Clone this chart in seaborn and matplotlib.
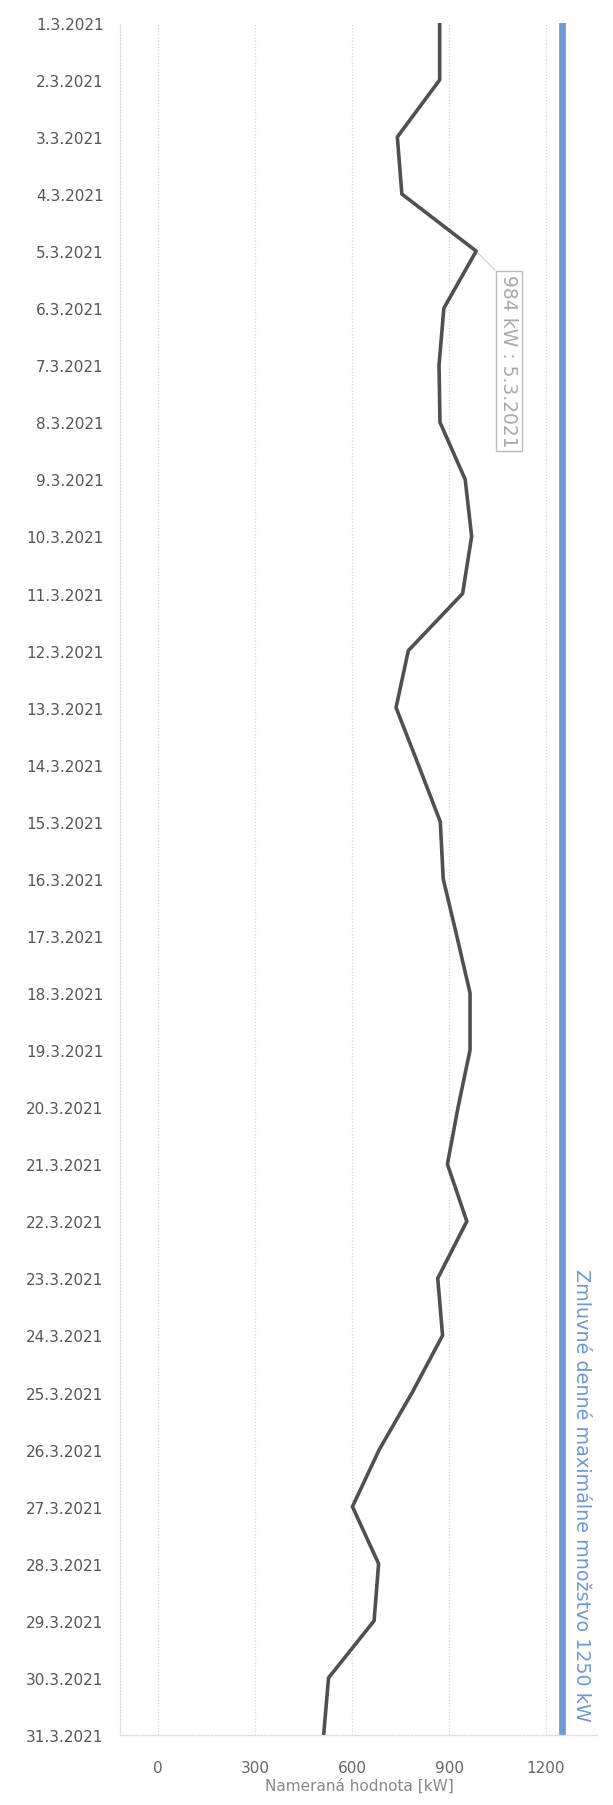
import numpy as np
import pandas as pd
import matplotlib
matplotlib.use("Agg")
import matplotlib.pyplot as plt
import seaborn as sns

# ---- data ----
dates = [f"{d}.3.2021" for d in range(1, 32)]
values_kw = [871, 871, 740, 754, 984, 884, 869, 872, 950, 970,
             942, 774, 736, 805, 873, 882, 924, 965, 965, 928,
             895, 955, 865, 880, 786, 684, 601, 682, 668, 527, 512]
x_ticks = [0, 300, 600, 900, 1200]
limit_kw = 1250
limit_label = "Zmluvné denné maximálne množstvo 1250 kW"
peak_label = "984 kW : 5.3.2021"
x_label = "Nameraná hodnota [kW]"

df = pd.DataFrame({"day": np.arange(len(dates)), "kw": values_kw})

sns.set_theme(style="white")
plt.rcParams["font.family"] = ["DejaVu Sans"]

fig = plt.figure(figsize=(6.13, 18.06), dpi=100)
ax = fig.add_axes([0.196, 0.0388, 0.780, 0.948])

# grid
for xv in x_ticks:
    ax.axvline(xv, color="#d4d8e6", lw=0.9, ls=(0, (1, 1.5)), zorder=0)

sns.lineplot(data=df, x="kw", y="day", orient="y", sort=False,
             color="#505050", lw=2.6, ax=ax, zorder=3)

ax.axvline(limit_kw, color="#6d98d9", lw=4.8, zorder=2)
ax.text(1310, 29.75, limit_label, rotation=270, ha="center", va="bottom",
        color="#6d98d9", fontsize=13.8)

ax.annotate(peak_label, xy=(984, 4), xytext=(1085, 5.92),
            rotation=270, ha="center", va="center", color="#a8a8a8",
            fontsize=13.5,
            bbox=dict(boxstyle="square,pad=0.2", fc="white", ec="#bcbcbc", lw=1),
            arrowprops=dict(arrowstyle="-", color="#c8cedc", lw=0.8,
                            relpos=(0, 1), shrinkA=0, shrinkB=2),
            zorder=5)

ax.set_xlim(-118, 1362)
ax.set_ylim(30, 0)
ax.set_xticks(x_ticks)
ax.set_xticklabels([str(v) for v in x_ticks])
ax.set_yticks(np.arange(len(dates)))
ax.set_yticklabels(dates)
ax.tick_params(axis="y", length=0, pad=12, labelsize=11, labelcolor="#555555")
ax.tick_params(axis="x", length=0, pad=18, labelsize=11, labelcolor="#666666")
ax.set_xlabel(x_label, color="#888888", fontsize=11, labelpad=2)
ax.set_ylabel("")

for s in ["top", "right"]:
    ax.spines[s].set_visible(False)
for s in ["left", "bottom"]:
    ax.spines[s].set_color("#d4d8e6")
    ax.spines[s].set_linewidth(0.9)
    ax.spines[s].set_linestyle((0, (1, 1.5)))

fig.savefig("out.png", dpi=100, facecolor="white")
